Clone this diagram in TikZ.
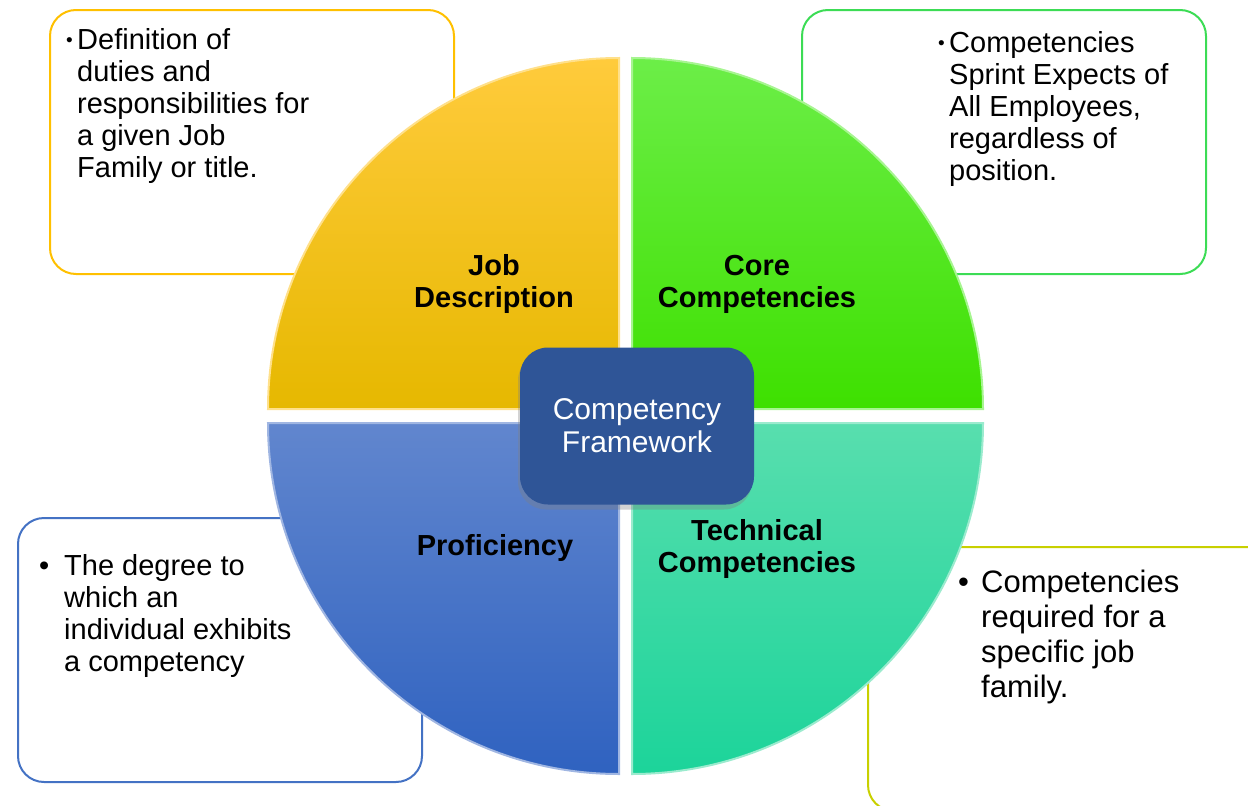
\documentclass[tikz,border=0pt]{standalone}
\usepackage{fontspec}
\setmainfont{Liberation Sans}
\usetikzlibrary{positioning, shadows}

\definecolor{jobedge}{HTML}{FFC000}
\definecolor{jobtop}{HTML}{FFCB3C}
\definecolor{jobbot}{HTML}{E6B800}
\definecolor{coreedge}{HTML}{3CDC55}
\definecolor{coretop}{HTML}{6CEE48}
\definecolor{corebot}{HTML}{3EE000}
\definecolor{profedge}{HTML}{4472C4}
\definecolor{proftop}{HTML}{6186CE}
\definecolor{profbot}{HTML}{2F62C0}
\definecolor{techedge}{HTML}{C8D000}
\definecolor{techtop}{HTML}{58DEAE}
\definecolor{techbot}{HTML}{1CD49A}
\definecolor{hubfill}{HTML}{2F5597}

\begin{document}
\begin{tikzpicture}[x=1pt, y=-1pt,
    notebox/.style={draw, line width=2pt, rounded corners=26pt, fill=white,
        minimum width=404pt, minimum height=264pt, anchor=north west, inner sep=0pt},
    note/.style={anchor=base west, align=left, inner sep=0pt,
        font=\fontsize{29}{32}\selectfont},
    dot/.style={anchor=base west, inner sep=0pt, font=\fontsize{29}{32}\selectfont},
    smalldot/.style={dot, font=\fontsize{19}{20}\selectfont},
    sector/.style={anchor=base, align=center, inner sep=0pt,
        font=\fontsize{29}{32}\selectfont\bfseries},
    quarter/.style={line width=2pt},
    hub/.style={fill=hubfill, text=white, rounded corners=28pt, align=center,
        minimum width=234pt, minimum height=157pt, inner sep=0pt,
        font=\fontsize{30}{33}\selectfont,
        drop shadow={opacity=0.35, shadow xshift=-2pt, shadow yshift=-5pt}}]
    \useasboundingbox (0,0) rectangle (1248,806);
    \clip (0,0) rectangle (1248,806);

    % boxes behind the circle
    \node[notebox, draw=jobedge] (jobnote) at (49,9) {};
    \node[notebox, draw=coreedge] (corenote) at (801,9) {};
    \node[notebox, draw=profedge] (profnote) at (17,517) {};
    \node[notebox, draw=techedge] (technote) at (867,546) {};

    % four quarters
    \fill[quarter, top color=jobtop, bottom color=jobbot, draw=jobtop!60!white]
        (619,409) -- (268,409) arc[start angle=180, end angle=270, radius=351] -- cycle;
    \fill[quarter, top color=coretop, bottom color=corebot, draw=coretop!60!white]
        (632,409) -- (632,58) arc[start angle=270, end angle=360, radius=351] -- cycle;
    \fill[quarter, top color=proftop, bottom color=profbot, draw=proftop!60!white]
        (619,423) -- (619,774) arc[start angle=90, end angle=180, radius=351] -- cycle;
    \fill[quarter, top color=techtop, bottom color=techbot, draw=techtop!60!white]
        (632,423) -- (983,423) arc[start angle=0, end angle=90, radius=351] -- cycle;

    % base of a node = its last line
    \node[sector] (job) at (494,307) {Job\\Description};
    \node[sector] (core) at (757,307) {Core\\Competencies};
    \node[sector] (prof) at (495,555) {Proficiency};
    \node[sector] (tech) at (757,572) {Technical\\Competencies};

    \node[hub] (hub) at (637,426) {Competency\\Framework};

    % texts in the boxes
    \node[smalldot] (jobdot) at (66,46) {\textbullet};
    \node[note] (jobtext) at (77,177) {Definition of\\duties and\\responsibilities for\\a given Job\\Family or title.};
    \node[smalldot] (coredot) at (938,49) {\textbullet};
    \node[note] (coretext) at (949,180) {Competencies\\Sprint Expects of\\All Employees,\\regardless of\\position.};
    \node[dot] (profdot) at (39,575) {\textbullet};
    \node[note] (proftext) at (64,671) {The degree to\\which an\\individual exhibits\\a competency};
    \node[dot, font=\fontsize{31}{35}\selectfont] (techdot) at (958,592) {\textbullet};
    \node[note, font=\fontsize{31}{35}\selectfont] (techtext) at (981,697) {Competencies\\required for a\\specific job\\family.};
\end{tikzpicture}
\end{document}
